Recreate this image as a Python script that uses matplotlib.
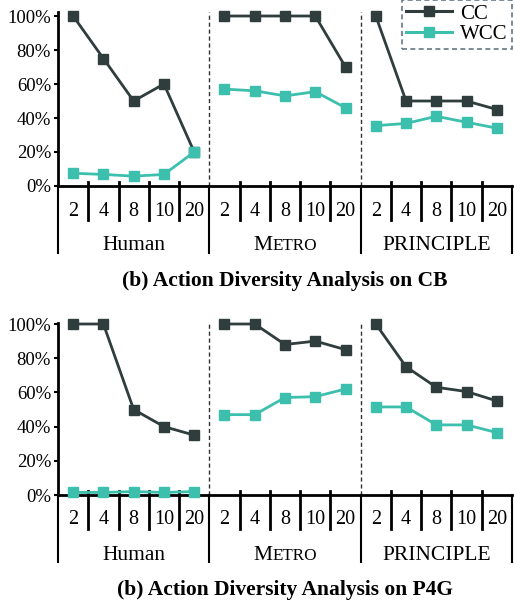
import matplotlib
matplotlib.use('Agg')
import matplotlib.pyplot as plt
from matplotlib.lines import Line2D
from matplotlib.offsetbox import TextArea, HPacker, AnnotationBbox

plt.rcParams['font.family'] = ['Liberation Serif', 'DejaVu Serif']

# data
groups = ['Human', 'METRO', 'PRINCIPLE']
ks = ['2', '4', '8', '10', '20']

cb_cc = [100, 75, 50, 60, 20, 100, 100, 100, 100, 70, 100, 50, 50, 50, 45]
cb_wcc = [7.5, 6.8, 5.8, 6.8, 20, 57, 56, 53, 55.5, 46, 35.5, 36.8, 41, 37.5, 34]
p4g_cc = [100, 100, 50, 40, 35, 100, 100, 88, 90, 85, 100, 75, 63, 60.5, 55]
p4g_wcc = [1.5, 1.5, 2, 1.5, 2, 47, 47, 57, 57.5, 62, 51.5, 51.5, 41, 41, 36.5]

titles = ['(b) Action Diversity Analysis on CB', '(b) Action Diversity Analysis on P4G']

cc_color = '#2f3d3d'
wcc_color = '#3dbfae'

W, H = 514, 608
fig = plt.figure(figsize=(W / 100, H / 100), dpi=100)


def px_box(left, top, right, bottom):
    return [left / W, 1 - bottom / H, (right - left) / W, (bottom - top) / H]


def draw_panel(ax, cc, wcc, title, ytop, ax_h):
    n = len(groups) * len(ks)
    for g in range(len(groups)):
        xs = list(range(g * 5, g * 5 + 5))
        ax.plot(xs, cc[g * 5:g * 5 + 5], color=cc_color, lw=2, marker='s', ms=6.5,
                clip_on=False, zorder=3)
        ax.plot(xs, wcc[g * 5:g * 5 + 5], color=wcc_color, lw=2, marker='s', ms=6.5,
                clip_on=False, zorder=3)
    ax.set_xlim(-0.5, n - 0.5)
    ax.set_ylim(0, ytop)
    ax.set_yticks([0, 20, 40, 60, 80, 100])
    ax.set_yticklabels([f'{v}%' for v in [0, 20, 40, 60, 80, 100]], fontsize=13.5)
    ax.tick_params(axis='y', direction='out', length=3, width=1.5, pad=2)
    ax.set_xticks([])
    for s in ['top', 'right']:
        ax.spines[s].set_visible(False)
    ax.spines['left'].set_linewidth(2)
    ax.spines['bottom'].set_linewidth(2)

    tr = ax.get_xaxis_transform()
    f = 1.0 / ax_h  # axes fraction per pixel
    # group separators (dashed above, solid below)
    for b in [4.5, 9.5]:
        ax.plot([b, b], [0, 1], transform=tr, color='#333333', lw=1, ls=(0, (3, 2)),
                clip_on=False, zorder=1)
    for b in [-0.5, 4.5, 9.5, 14.5]:
        ax.plot([b, b], [0, -67 * f], transform=tr, color='black', lw=1.5, clip_on=False)
    # short separators between k values
    for i in range(n - 1):
        b = i + 0.5
        if b in (4.5, 9.5):
            continue
        ax.plot([b, b], [4 * f, -34 * f], transform=tr, color='black', lw=2, clip_on=False)

    for i in range(n):
        ax.annotate(ks[i % 5], xy=(i, 0), xycoords=tr, xytext=(0, -25 * 0.72),
                    textcoords='offset points', ha='center', va='center', fontsize=14.5)
    for g, name in enumerate(groups):
        cx = g * 5 + 2
        if name == 'METRO':
            box = HPacker(children=[TextArea('M', textprops=dict(fontsize=15.5)),
                                    TextArea('ETRO', textprops=dict(fontsize=12.3))],
                          align='baseline', pad=0, sep=0)
            ab = AnnotationBbox(box, (cx, 0), xycoords=tr, xybox=(0, -60 * 0.72),
                                boxcoords='offset points', frameon=False,
                                box_alignment=(0.5, 0.5), annotation_clip=False)
            ax.add_artist(ab)
        else:
            ax.annotate(name, xy=(cx, 0), xycoords=tr, xytext=(0, -60 * 0.72),
                        textcoords='offset points', ha='center', va='center', fontsize=15.5)
    ax.annotate(title, xy=(0.5, 0), xycoords='axes fraction', xytext=(0, -95 * 0.72),
                textcoords='offset points', ha='center', va='center', fontsize=15.5,
                fontweight='bold')


ax1 = fig.add_axes(px_box(58, 12, 512, 186))
draw_panel(ax1, cb_cc, cb_wcc, titles[0], 100 * 174 / 170, 174)

ax2 = fig.add_axes(px_box(58, 323, 512, 495))
draw_panel(ax2, p4g_cc, p4g_wcc, titles[1], 100 * 172 / 171, 172)

handles = [Line2D([], [], color=cc_color, lw=2.2, marker='s', ms=7),
           Line2D([], [], color=wcc_color, lw=2.2, marker='s', ms=7)]
leg = fig.legend(handles, ['CC', 'WCC'], loc='upper right', bbox_to_anchor=(512 / W, 1.0),
                 fontsize=15, frameon=True, fancybox=False, handlelength=2.2,
                 handletextpad=0.4, borderpad=0.2, labelspacing=0.05, borderaxespad=0)
fr = leg.get_frame()
fr.set_edgecolor('#3d5566')
fr.set_linestyle((0, (3, 2)))
fr.set_linewidth(1.2)

fig.savefig('out.png', dpi=100)
